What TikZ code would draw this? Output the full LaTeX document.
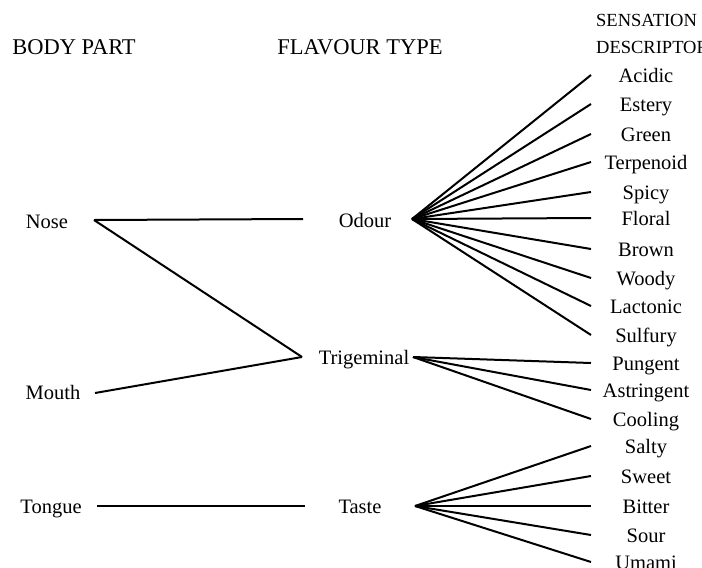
\documentclass[tikz,border=0pt]{standalone}
\usepackage{fontspec}
\setmainfont{Liberation Serif}
\usetikzlibrary{positioning}

\tikzset{
  lbl/.style={inner sep=0pt, text height=14pt, text depth=0pt, font=\fontsize{20.5}{22}\selectfont},
  head/.style={inner sep=0pt, text height=14pt, text depth=0pt, font=\fontsize{22.5}{24}\selectfont},
  subhead/.style={inner sep=0pt, text height=13pt, text depth=0pt, anchor=west, font=\fontsize{18.5}{20}\selectfont},
  link/.style={line width=2pt}
}

\begin{document}
\begin{tikzpicture}[x=1pt,y=-1pt]
    \useasboundingbox (0,0) rectangle (702,568);

    % headings
    \node[head] (bodyhead) at (74,47) {BODY PART};
    \node[head] (flavhead) at (360,47) {FLAVOUR TYPE};
    \node[subhead] (senshead) at (596,20) {SENSATION};
    \node[subhead] (deschead) at (596,47) {DESCRIPTOR};

    % body parts
    \node[lbl] (nose) at (47,221) {Nose};
    \node[lbl] (mouth) at (53,392) {Mouth};
    \node[lbl] (tongue) at (51,506) {Tongue};

    % flavour types
    \node[lbl] (odour) at (365,220) {Odour};
    \node[lbl] (trig) at (364,357) {Trigeminal};
    \node[lbl] (taste) at (360,506) {Taste};

    % line ends
    \coordinate (nose-out) at (94,220);
    \coordinate (mouth-out) at (95,393);
    \coordinate (tongue-out) at (97,506);
    \coordinate (odour-in) at (303,219);
    \coordinate (trig-in) at (302,357);
    \coordinate (taste-in) at (305,506);
    \coordinate (odour-hub) at (412,219);
    \coordinate (trig-hub) at (413,357);
    \coordinate (taste-hub) at (415,506);
    \coordinate (desc-x) at (591,0);

    % descriptors
    \foreach \name/\txt/\y in {acidic/Acidic/75, estery/Estery/104, green/Green/134,
        terpenoid/Terpenoid/162, spicy/Spicy/192, floral/Floral/218, brown/Brown/249,
        woody/Woody/278, lactonic/Lactonic/306, sulfury/Sulfury/335,
        pungent/Pungent/363, astringent/Astringent/390, cooling/Cooling/419,
        salty/Salty/446, sweet/Sweet/476, bitter/Bitter/506, sour/Sour/535, umami/Umami/562}
        \node[lbl] (\name) at (646,\y) {\txt};

    % body part to flavour type
    \draw[link] (nose-out) -- (odour-in);
    \draw[link] (nose-out) -- (trig-in);
    \draw[link] (mouth-out) -- (trig-in);
    \draw[link] (tongue-out) -- (taste-in);

    % flavour type to descriptor
    \foreach \name in {acidic,estery,green,terpenoid,spicy,floral,brown,woody,lactonic,sulfury}
        \draw[link] (odour-hub) -- (desc-x |- \name);
    \foreach \name in {pungent,astringent,cooling}
        \draw[link] (trig-hub) -- (desc-x |- \name);
    \foreach \name in {salty,sweet,bitter,sour,umami}
        \draw[link] (taste-hub) -- (desc-x |- \name);
\end{tikzpicture}
\end{document}
